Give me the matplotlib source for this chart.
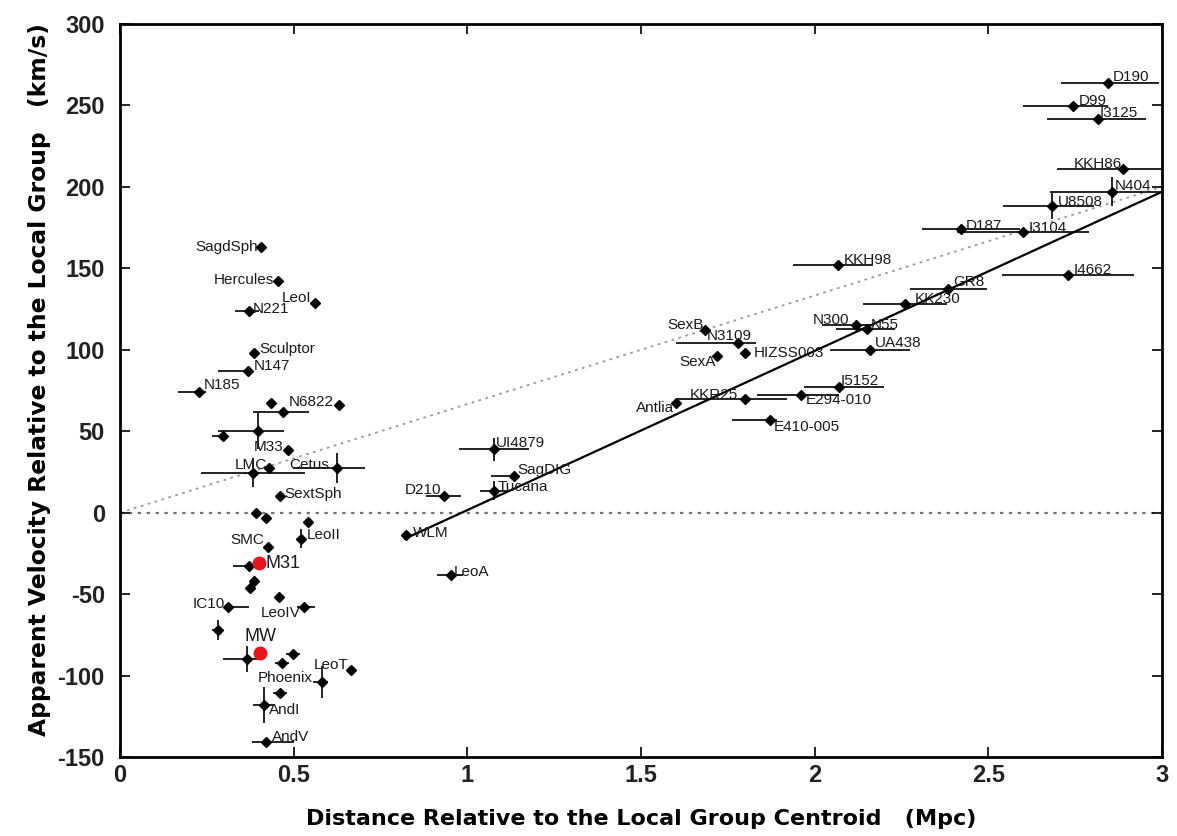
"""
Local Group velocity-distance diagram: apparent velocity of each galaxy
relative to the Local Group versus its distance from the LG centroid.
"""
import numpy as np
import matplotlib
matplotlib.use("Agg")
import matplotlib.pyplot as plt

plt.rcParams["font.family"] = ["Liberation Sans", "DejaVu Sans"]
plt.rcParams["axes.unicode_minus"] = False

# ── Data ────────────────────────────────────────────────────────────────
# name ("" = unlabelled), distance (Mpc), velocity (km/s)
names = [
    "SagdSph", "Hercules", "LeoI", "N221", "Sculptor", "N147", "N185", "",
    "N6822", "", "", "", "M33", "LMC", "", "Cetus", "SextSph",
    "", "", "", "LeoII", "SMC", "M31", "", "", "", "", "IC10", "LeoIV", "",
    "MW", "", "", "", "LeoT", "Phoenix", "", "AndI", "AndV",
    "UI4879", "SagDIG", "Tucana", "D210", "WLM", "LeoA",
    "SexB", "N3109", "HIZSS003", "SexA", "Antlia", "KKR25", "E294-010",
    "I5152", "E410-005", "N300", "N55", "UA438", "KKH98", "GR8", "KK230",
    "I4662", "D190", "D99", "I3125", "KKH86", "N404", "U8508", "D187", "I3104",
]
dist = [
    0.405, 0.454, 0.560, 0.371, 0.386, 0.368, 0.227, 0.434,
    0.630, 0.468, 0.397, 0.296, 0.483, 0.430, 0.382, 0.624, 0.460,
    0.390, 0.420, 0.540, 0.520, 0.425, 0.400, 0.371, 0.385, 0.375, 0.457, 0.310, 0.530, 0.281,
    0.403, 0.365, 0.497, 0.466, 0.664, 0.580, 0.460, 0.414, 0.420,
    1.076, 1.133, 1.076, 0.932, 0.823, 0.952,
    1.685, 1.780, 1.800, 1.720, 1.600, 1.800, 1.960,
    2.070, 1.872, 2.120, 2.150, 2.160, 2.068, 2.385, 2.260,
    2.730, 2.845, 2.745, 2.815, 2.887, 2.856, 2.683, 2.420, 2.600,
]
vel = [
    163, 142, 129, 124, 98, 87, 74, 67.5,
    66, 61.5, 50, 47, 38.5, 27.5, 24.5, 27.5, 10,
    0, -3, -5.5, -16, -21, -31, -33, -42, -46, -51.5, -58, -58, -72,
    -86, -90, -87, -92, -96.5, -104, -111, -118, -141,
    39, 22.5, 13.5, 10, -14, -38,
    112, 104, 98, 96, 67.5, 69.5, 72.5,
    77, 57, 115.5, 113, 100, 152, 137.5, 128,
    146, 264, 249.5, 241.5, 211, 197, 188, 174, 172.5,
]
# distance errors (lower, upper) in Mpc and velocity errors in km/s
dist_lo = [
    0, 0, 0, 0.04, 0, 0.085, 0.06, 0,
    0, 0.085, 0.115, 0.03, 0, 0, 0.15, 0.125, 0,
    0, 0, 0, 0, 0, 0, 0.045, 0, 0, 0, 0.01, 0.02, 0.015,
    0, 0.07, 0.02, 0.02, 0, 0.025, 0.02, 0.03, 0.04,
    0.10, 0.065, 0.04, 0.05, 0, 0.04,
    0, 0.18, 0, 0, 0, 0.20, 0.125,
    0.10, 0.11, 0.10, 0.09, 0.115, 0.13, 0.11, 0.12,
    0.19, 0.135, 0.145, 0.145, 0.19, 0.18, 0.14, 0.11, 0.19,
]
dist_hi = [
    0, 0, 0, 0.03, 0, 0.01, 0.02, 0,
    0, 0.075, 0.075, 0.01, 0, 0, 0.15, 0.08, 0,
    0, 0, 0, 0, 0, 0, 0.02, 0, 0, 0, 0.06, 0.03, 0.015,
    0, 0.035, 0.02, 0.02, 0, 0.02, 0.02, 0.03, 0.08,
    0.10, 0, 0.04, 0.05, 0, 0.035,
    0, 0.05, 0, 0, 0, 0.12, 0.11,
    0.13, 0.02, 0.05, 0.08, 0.115, 0.10, 0.11, 0.12,
    0.19, 0.145, 0.10, 0.14, 0.12, 0.15, 0.12, 0.17, 0.19,
]
vel_err = [
    0, 0, 0, 0, 0, 0, 0, 0,
    0, 0, 11, 0, 0, 0, 9, 9, 0,
    0, 0, 0, 6, 0, 0, 0, 0, 0, 0, 0, 0, 6,
    0, 8, 0, 0, 0, 10, 0, 11, 0,
    7, 0, 6, 0, 0, 0,
    0, 0, 0, 0, 0, 0, 0,
    0, 0, 0, 0, 0, 0, 0, 0,
    0, 0, 0, 0, 0, 9, 8, 0, 0,
]
highlight = ["M31", "MW"]

# reference lines
hubble_d = [0.0, 3.0]
hubble_v = [0.0, 200.0]
fit_d = [0.82, 3.0]
fit_v = [-16.0, 197.0]

# ── Label placement: offset in pixels from the point, alignment ─────────
LABEL_POS = {
    "SagdSph": (-3, 0, "right"), "Hercules": (-4, 1, "right"),
    "LeoI": (-3, 5, "right"), "N221": (4, 2, "left"),
    "Sculptor": (5, 4, "left"), "N147": (6, 5, "left"),
    "N185": (5, 7, "left"), "N6822": (-5, 3, "right"),
    "M33": (-4, 3, "right"), "LMC": (-2, 3, "right"),
    "Cetus": (-8, 3, "right"), "SextSph": (5, 2, "left"),
    "LeoII": (6, 4, "left"), "SMC": (-3, 7, "right"),
    "M31": (7, 0, "left"), "IC10": (-3, 3, "right"),
    "LeoIV": (-4, -6, "right"), "MW": (0, 16, "center"),
    "LeoT": (-2, 5, "right"), "Phoenix": (-9, 4, "right"),
    "AndI": (5, -5, "left"), "AndV": (6, 5, "left"),
    "UI4879": (2, 6, "left"), "SagDIG": (4, 6, "left"),
    "Tucana": (4, 4, "left"), "D210": (-3, 6, "right"),
    "WLM": (7, 2, "left"), "LeoA": (3, 3, "left"),
    "SexB": (-2, 5, "right"), "N3109": (-32, 7, "left"),
    "HIZSS003": (8, 0, "left"), "SexA": (-2, -6, "right"),
    "Antlia": (-2, -5, "right"), "KKR25": (-7, 4, "right"),
    "E294-010": (5, -5, "left"), "I5152": (2, 6, "left"),
    "E410-005": (3, -7, "left"), "N300": (-7, 5, "right"),
    "N55": (4, 4, "left"), "UA438": (5, 7, "left"),
    "KKH98": (5, 5, "left"), "GR8": (5, 7, "left"),
    "KK230": (10, 5, "left"), "I4662": (5, 5, "left"),
    "D190": (5, 6, "left"), "D99": (5, 5, "left"),
    "I3125": (2, 6, "left"), "KKH86": (-1, 5, "right"),
    "N404": (3, 6, "left"), "U8508": (6, 4, "left"),
    "D187": (5, 3, "left"), "I3104": (6, 4, "left"),
}


def main():
    d = np.array(dist)
    v = np.array(vel)
    xerr = np.vstack([dist_lo, dist_hi])
    red = np.array([n in highlight for n in names])

    fig = plt.figure(figsize=(11.77, 8.36), dpi=100)
    ax = fig.add_axes([0.102, 0.0945, 0.8853, 0.8768])

    # zero-velocity and pure Hubble-flow references
    ax.axhline(0, color="0.45", linestyle=(0, (1.5, 2.5)), linewidth=1.6, zorder=1)
    ax.plot(hubble_d, hubble_v, color="0.6", linestyle=(0, (1.5, 2.5)), linewidth=1.3, zorder=1)
    ax.plot(fit_d, fit_v, color="black", linewidth=1.6, zorder=2)

    ax.errorbar(d, v, xerr=xerr, yerr=np.array(vel_err), fmt="none",
                ecolor="black", elinewidth=1.2, capsize=0, zorder=3)
    ax.plot(d[~red], v[~red], "D", color="black", markersize=4.8, zorder=4)
    ax.plot(d[red], v[red], "o", color="#e8141c", markersize=9, zorder=5)

    for name, x, y in zip(names, d, v):
        if not name:
            continue
        dx, dy, ha = LABEL_POS[name]
        size = 13 if name in highlight else 11
        ax.annotate(name, (x, y), xytext=(dx, dy), textcoords="offset pixels",
                    ha=ha, va="center", fontsize=size, color="#1a1a1a", zorder=6)

    ax.set_xlim(0, 3)
    ax.set_ylim(-150, 300)
    ax.set_xticks([0, 0.5, 1, 1.5, 2, 2.5, 3])
    ax.set_xticklabels(["0", "0.5", "1", "1.5", "2", "2.5", "3"])
    ax.set_yticks(np.arange(-150, 301, 50))
    ax.tick_params(direction="in", top=True, right=True, length=7, width=1.2,
                   labelsize=17)
    ax.tick_params(axis="y", pad=11)
    ax.tick_params(axis="x", pad=5)
    for lab in ax.get_xticklabels() + ax.get_yticklabels():
        lab.set_fontweight("bold")
        lab.set_color("#222222")
    for sp in ax.spines.values():
        sp.set_linewidth(2.0)

    ax.set_xlabel("Distance Relative to the Local Group Centroid   (Mpc)",
                  fontsize=16, fontweight="bold", family="DejaVu Sans", labelpad=16)
    ax.set_ylabel("Apparent Velocity Relative to the Local Group   (km/s)",
                  fontsize=16.8, fontweight="bold", family="DejaVu Sans", labelpad=8)
    ax.yaxis.set_label_coords(-0.066, 0.515)

    fig.savefig("out.png", dpi=100)
    plt.close(fig)


if __name__ == "__main__":
    main()
